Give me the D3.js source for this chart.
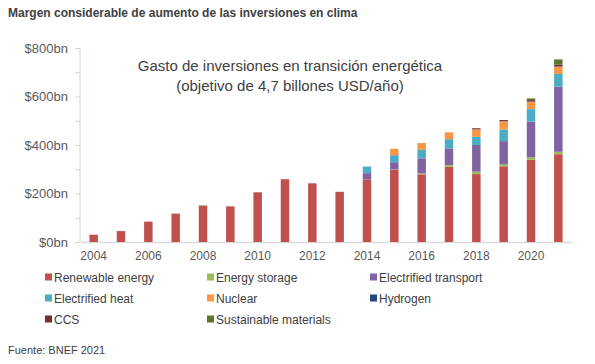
<!DOCTYPE html>
<html>
<head>
<meta charset="utf-8">
<script src="https://cdn.jsdelivr.net/npm/d3@7"></script>
<style>
  body { margin: 0; background: #fff; }
  svg text { font-family: "Liberation Sans", Arial, sans-serif; }
</style>
</head>
<body>
<script>
var years = [2004, 2005, 2006, 2007, 2008, 2009, 2010, 2011, 2012, 2013, 2014, 2015, 2016, 2017, 2018, 2019, 2020, 2021];
var seriesNames = ['Renewable energy', 'Energy storage', 'Electrified transport', 'Electrified heat',
    'Nuclear', 'Hydrogen', 'CCS', 'Sustainable materials'];
var seriesColors = ['#c0504d', '#9bbb59', '#8064a2', '#4bacc6', '#f79646', '#1f497d', '#772c2a', '#5f7530'];

// values in $bn
var renewable   = [30, 45, 84, 117, 150, 147, 205, 259, 242, 207, 257, 297, 279, 310, 280, 312, 339, 362];
var storage     = [0, 0, 0, 0, 2, 0, 0, 0, 0, 0, 0, 2, 4, 7, 10, 8, 10, 10];
var transport   = [0, 0, 0, 0, 0, 0, 0, 0, 0, 0, 27, 30, 62, 69, 110, 96, 147, 269];
var heat        = [0, 0, 0, 0, 0, 0, 0, 0, 0, 0, 27, 29, 35, 38, 34, 48, 52, 52];
var nuclear     = [0, 0, 0, 0, 0, 0, 0, 0, 0, 0, 0, 26, 28, 28, 30, 34, 30, 30];
var hydrogen    = [0, 0, 0, 0, 0, 0, 0, 0, 0, 0, 0, 0, 0, 0, 1, 1, 2, 2];
var ccs         = [0, 0, 0, 0, 0, 0, 0, 0, 0, 0, 0, 0, 0, 0, 4, 4, 5, 6];
var materials   = [0, 0, 0, 0, 0, 0, 0, 0, 0, 0, 0, 0, 0, 0, 0, 0, 7, 22];
var yTicks = [0, 100, 200, 300, 400, 500, 600, 700, 800];

var allSeries = [renewable, storage, transport, heat, nuclear, hydrogen, ccs, materials];
var keys = seriesNames;

var table = years.map(function (yr, i) {
    var row = { year: yr };
    keys.forEach(function (k, j) { row[k] = allSeries[j][i]; });
    return row;
});

var width = 595, height = 364;
var svg = d3.select('body').append('svg').attr('width', width).attr('height', height);

var x = d3.scaleBand().domain(years).range([80, 572]).paddingInner(0.69).paddingOuter(0.345);
var y = d3.scaleLinear().domain([0, 800]).range([242, 48]);

// title
svg.append('text').attr('x', 8).attr('y', 17)
    .style('font-size', '12px').style('font-weight', 'bold').style('fill', '#404040')
    .text('Margen considerable de aumento de las inversiones en clima');

// y axis
var yAxis = svg.append('g').attr('transform', 'translate(80,0)')
    .call(d3.axisLeft(y).tickValues(yTicks).tickSize(5).tickPadding(7)
        .tickFormat(function (d) { return d % 200 === 0 ? '$' + d + 'bn' : ''; }));
yAxis.select('.domain').attr('stroke', '#d6d6c2').attr('d', 'M0,48V242');
yAxis.selectAll('.tick line').attr('stroke', '#d6d6c2');
yAxis.selectAll('.tick text').style('font-size', '13px').style('fill', '#595959')
    .style('font-family', '"Liberation Sans", Arial, sans-serif');

// x axis
var xAxis = svg.append('g').attr('transform', 'translate(0,242)')
    .call(d3.axisBottom(x).tickSize(0).tickPadding(9)
        .tickFormat(function (d) { return d % 2 === 0 ? d : ''; }));
xAxis.select('.domain').attr('stroke', '#d9d9d9').attr('stroke-width', 1.5);
xAxis.selectAll('.tick text').style('font-size', '12px').style('fill', '#595959')
    .style('font-family', '"Liberation Sans", Arial, sans-serif');

// bars
var stack = d3.stack().keys(keys)(table);
svg.append('g').selectAll('g').data(stack).enter().append('g')
    .attr('fill', function (d, i) { return seriesColors[i]; })
    .selectAll('rect').data(function (d) { return d; }).enter().append('rect')
    .attr('x', function (d) { return x(d.data.year); })
    .attr('width', x.bandwidth())
    .attr('y', function (d) { return y(d[1]); })
    .attr('height', function (d) { return y(d[0]) - y(d[1]); });

// annotation
var note = svg.append('text').attr('x', 290).attr('y', 71)
    .attr('text-anchor', 'middle').style('font-size', '15px').style('fill', '#404040');
note.append('tspan').attr('x', 290).text('Gasto de inversiones en transición energética');
note.append('tspan').attr('x', 290).attr('dy', 20).text('(objetivo de 4,7 billones USD/año)');

// legend
var legCols = [45, 207, 370], legRows = [277, 298, 319];
var leg = svg.append('g').selectAll('g').data(seriesNames).enter().append('g')
    .attr('transform', function (d, i) {
        return 'translate(' + legCols[i % 3] + ',' + legRows[Math.floor(i / 3)] + ')';
    });
leg.append('rect').attr('x', 0).attr('y', -3.5).attr('width', 7).attr('height', 7)
    .attr('fill', function (d, i) { return seriesColors[i]; });
leg.append('text').attr('x', 9).attr('y', 4.5)
    .style('font-size', '12px').style('fill', '#404040').text(function (d) { return d; });

// source
svg.append('text').attr('x', 8).attr('y', 354)
    .style('font-size', '11px').style('fill', '#404040').text('Fuente: BNEF 2021');
</script>
</body>
</html>
